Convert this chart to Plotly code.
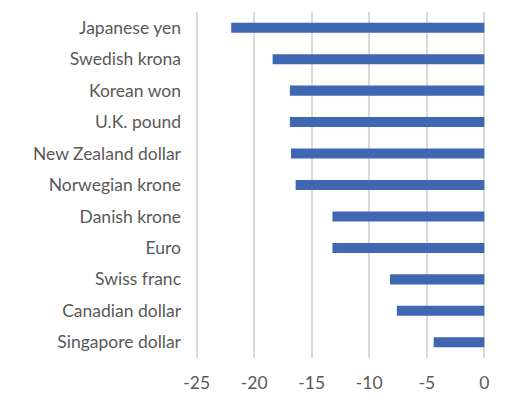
import plotly.graph_objects as go

currencies = ["Japanese yen", "Swedish krona", "Korean won", "U.K. pound",
              "New Zealand dollar", "Norwegian krone", "Danish krone", "Euro",
              "Swiss franc", "Canadian dollar", "Singapore dollar"]
changes = [-22.0, -18.4, -16.9, -16.9, -16.8, -16.4, -13.2, -13.2, -8.2, -7.6, -4.4]
x_ticks = [-25, -20, -15, -10, -5, 0]

fig = go.Figure(go.Bar(
    y=currencies, x=changes, orientation="h",
    marker=dict(color="#4068B2", line=dict(width=0)),
    width=0.32,
))

font_family = "Lato, Open Sans, sans-serif"
fig.update_layout(
    width=520, height=394,
    margin=dict(l=187, r=42, t=4, b=44),
    paper_bgcolor="white", plot_bgcolor="white",
    showlegend=False,
    font=dict(family=font_family, size=17.5, color="#595959"),
)
fig.update_xaxes(
    range=[-25.15, 0.15], tickvals=x_ticks, ticktext=[str(v) for v in x_ticks],
    showgrid=True, gridcolor="#D9D9D9", gridwidth=1.5,
    zeroline=False, showline=False, ticklabelstandoff=12,
)
fig.update_yaxes(
    categoryorder="array", categoryarray=currencies, autorange="reversed",
    showgrid=False, zeroline=False, showline=False, ticklabelstandoff=13,
)
fig.write_html("out.html")
